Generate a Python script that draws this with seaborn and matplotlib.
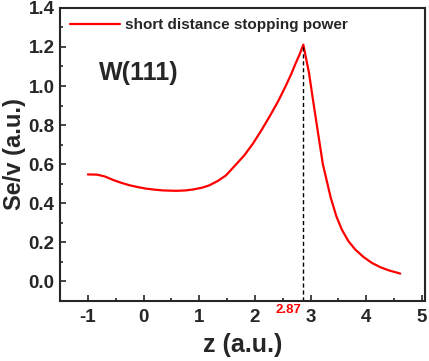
import matplotlib
matplotlib.use("Agg")
import matplotlib.pyplot as plt
import seaborn as sns
import pandas as pd
from matplotlib.ticker import MultipleLocator, AutoMinorLocator, FormatStrFormatter

# data
z = [-1.0, -0.84, -0.7, -0.54, -0.4, -0.245, -0.1, 0.05, 0.2, 0.35, 0.59, 0.75, 0.89,
     1.05, 1.18, 1.33, 1.48, 1.66, 1.81, 1.96, 2.11, 2.26, 2.41, 2.55, 2.65, 2.73, 2.8, 2.87,
     2.92, 2.97, 3.06, 3.15, 3.22, 3.36, 3.46, 3.56, 3.68, 3.8, 3.95, 4.1, 4.25, 4.4, 4.61]
sev = [0.547, 0.546, 0.537, 0.518, 0.504, 0.491, 0.482, 0.474, 0.469, 0.465, 0.463, 0.465, 0.470,
       0.479, 0.491, 0.513, 0.542, 0.598, 0.645, 0.703, 0.77, 0.842, 0.918, 0.998, 1.06, 1.115,
       1.16, 1.212,
       1.14, 1.07, 0.897, 0.73, 0.6, 0.43, 0.335, 0.265, 0.205, 0.163, 0.124, 0.094, 0.072, 0.056, 0.039]
peak_z = 2.87
peak_v = 1.212

sns.set_style("ticks")
plt.rcParams['font.family'] = ['Liberation Sans', 'DejaVu Sans']
plt.rcParams['font.weight'] = 'bold'
plt.rcParams['axes.unicode_minus'] = False

df = pd.DataFrame({"z": z, "sev": sev})

fig, ax = plt.subplots(figsize=(4.29, 3.61), dpi=100)
fig.subplots_adjust(left=0.14, right=0.99, top=0.978, bottom=0.167)

sns.lineplot(data=df, x="z", y="sev", color="red", lw=1.6, ax=ax,
             label="short distance stopping power")
ax.plot([peak_z, peak_z], [-0.1, peak_v], ls=(0, (3, 2)), color="black", lw=1)

ax.set_xlim(-1.5, 5.05)
ax.set_ylim(-0.1, 1.4)
ax.xaxis.set_major_locator(MultipleLocator(1))
ax.yaxis.set_major_locator(MultipleLocator(0.2))
ax.xaxis.set_minor_locator(AutoMinorLocator(2))
ax.yaxis.set_minor_locator(AutoMinorLocator(2))
ax.yaxis.set_major_formatter(FormatStrFormatter('%.1f'))
ax.tick_params(direction="in", which="major", length=4, width=1.2, labelsize=13.5)
ax.tick_params(axis="x", pad=6)
ax.tick_params(axis="y", pad=4)
ax.tick_params(direction="in", which="minor", length=2.5, width=1.2)
for lab in ax.get_xticklabels() + ax.get_yticklabels():
    lab.set_fontweight("bold")
for s in ax.spines.values():
    s.set_linewidth(1.5)

ax.set_xlabel("z (a.u.)", fontsize=18, fontweight="bold", labelpad=5)
ax.set_ylabel("Se/v (a.u.)", fontsize=17, fontweight="bold", labelpad=2)

ax.text(-0.8, 1.03, "W(111)", fontsize=18, fontweight="bold", va="baseline")
ax.text(2.83, -0.118, "2.87", color="red", fontsize=9.5, fontweight="bold",
        ha="right", va="top")

leg = ax.legend(loc="upper left", frameon=False, prop={"size": 11, "weight": "bold"},
                handlelength=3.3, borderaxespad=0.25, handletextpad=0.3)

fig.savefig("out.png", dpi=100)
